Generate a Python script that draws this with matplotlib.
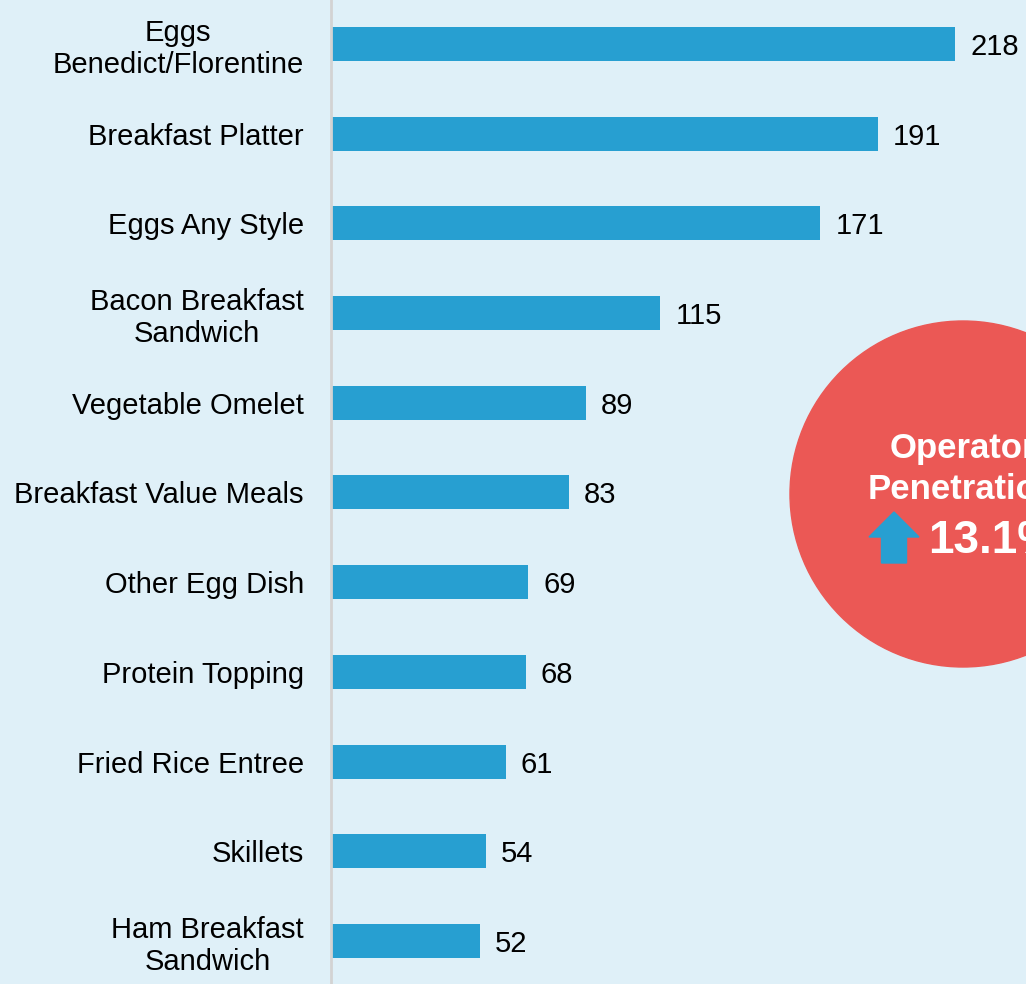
import matplotlib.pyplot as plt
from matplotlib.patches import Circle, FancyArrow

plt.rcParams['font.family'] = ['Liberation Sans', 'DejaVu Sans']

# ----------------- Data -----------------
categories = [
    "Eggs\nBenedict/Florentine",
    "Breakfast Platter",
    "Eggs Any Style",
    "Bacon Breakfast\nSandwich",
    "Vegetable Omelet",
    "Breakfast Value Meals",
    "Other Egg Dish",
    "Protein Topping",
    "Fried Rice Entree",
    "Skillets",
    "Ham Breakfast\nSandwich",
]
values = [218, 191, 171, 115, 89, 83, 69, 68, 61, 54, 52]
badge_title = "Operator\nPenetration"
badge_value = "13.1%"

bg = "#DFF0F8"
bar_color = "#279FD1"
red = "#EB5855"

# ----------------- Plotting -----------------
W, H = 1026, 984
fig = plt.figure(figsize=(W / 100, H / 100), dpi=100, facecolor=bg)
ax = fig.add_axes([331 / W, 0, 1 - 331 / W, 1], facecolor=bg)

ypos = list(range(len(values)))
ax.barh(ypos, values, height=0.38, color=bar_color)
for y, v in zip(ypos, values):
    ax.text(v + 5.3, y, str(v), va="center_baseline", ha="left", fontsize=21, color="black")

ax.set_yticks(ypos)
ax.set_yticklabels(categories, fontsize=21, multialignment="center", linespacing=1.2)
ax.tick_params(axis="y", length=0, pad=19.5)
ax.set_xticks([])
ax.set_xlim(0, (W - 331) / 2.862)
ax.set_ylim(len(values) - 0.52, -0.49)
for s in ["top", "right", "bottom"]:
    ax.spines[s].set_visible(False)
ax.spines["left"].set_color("#D3D3D3")
ax.spines["left"].set_linewidth(2)

# Badge overlay (pixel coordinates)
ov = fig.add_axes([0, 0, 1, 1], facecolor="none")
ov.set_xlim(0, W)
ov.set_ylim(H, 0)
ov.axis("off")
ov.add_patch(Circle((963, 494), 173, color=red, clip_on=False))
ov.text(963, 469, badge_title, ha="center", va="center", fontsize=25,
        fontweight="bold", color="white", linespacing=1.3)
ov.add_patch(FancyArrow(894, 563, 0, -51, width=25, head_width=50, head_length=25,
                        length_includes_head=True, color=bar_color))
ov.text(928, 541, badge_value, ha="left", va="center", fontsize=33,
        fontweight="bold", color="white")

fig.savefig("out.png", dpi=100, facecolor=bg)
